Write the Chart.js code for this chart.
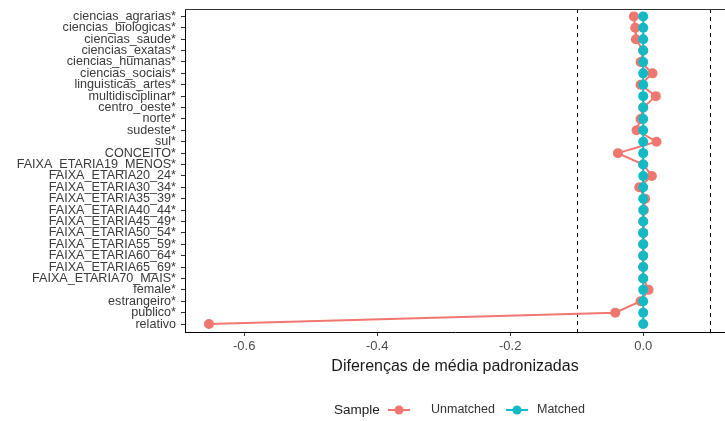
<!DOCTYPE html>
<html>
<head>
<meta charset="utf-8">
<script src="https://cdn.jsdelivr.net/npm/chart.js@4"></script>
<style>
  html, body { margin: 0; padding: 0; background: #fff; }
  #wrap { width: 725px; height: 421px; }
</style>
</head>
<body>
<div id="wrap"><canvas id="c" width="725" height="421"></canvas></div>
<script>
const categories = [
  "ciencias_agrarias*", "ciencias_biologicas*", "ciencias_saude*", "ciencias_exatas*",
  "ciencias_humanas*", "ciencias_sociais*", "linguisticas_artes*", "multidisciplinar*",
  "centro_oeste*", "norte*", "sudeste*", "sul*", "CONCEITO*",
  "FAIXA_ETARIA19_MENOS*", "FAIXA_ETARIA20_24*", "FAIXA_ETARIA30_34*", "FAIXA_ETARIA35_39*",
  "FAIXA_ETARIA40_44*", "FAIXA_ETARIA45_49*", "FAIXA_ETARIA50_54*", "FAIXA_ETARIA55_59*",
  "FAIXA_ETARIA60_64*", "FAIXA_ETARIA65_69*", "FAIXA_ETARIA70_MAIS*",
  "female*", "estrangeiro*", "publico*", "relativo"
];
const unmatched = [
  -0.014, -0.012, -0.011, 0.000,
  -0.004, 0.014, -0.004, 0.019,
  0.000, -0.004, -0.010, 0.020, -0.038,
  0.000, 0.013, -0.006, 0.003,
  0.001, 0.000, 0.000, 0.000,
  0.000, 0.000, 0.000,
  0.008, -0.004, -0.042, -0.653
];
const matched = [
  0.000, 0.000, 0.000, 0.000,
  0.000, 0.000, 0.000, 0.000,
  0.000, 0.000, 0.000, 0.000, 0.000,
  0.000, 0.000, 0.000, 0.000,
  0.000, 0.000, 0.000, 0.000,
  0.000, 0.000, 0.000,
  0.000, 0.000, 0.000, 0.000
];
const seriesNames = ["Unmatched", "Matched"];
const legendTitle = "Sample";
const xTicks = [-0.6, -0.4, -0.2, 0.0];
const thresholds = [-0.1, 0.1];
const xTitle = "Diferenças de média padronizadas";

const RED = "#F0776F";
const TEAL = "#13BAC3";
const FONT = "'Liberation Sans', Arial, sans-serif";

const toPts = arr => arr.map((v, i) => ({ x: v, y: i }));

const framePlugin = {
  id: "frame",
  beforeDatasetsDraw(chart) {
    const { ctx, chartArea, scales } = chart;
    ctx.save();
    ctx.strokeStyle = "#000";
    ctx.lineWidth = 1;
    ctx.setLineDash([4, 4]);
    thresholds.forEach(t => {
      const px = Math.round(scales.x.getPixelForValue(t)) + 0.5;
      ctx.beginPath();
      ctx.moveTo(px, chartArea.top);
      ctx.lineTo(px, chartArea.bottom);
      ctx.stroke();
    });
    ctx.restore();
  },
  afterDraw(chart) {
    const { ctx, chartArea } = chart;
    ctx.save();
    // top border
    ctx.strokeStyle = "#333";
    ctx.lineWidth = 1;
    ctx.beginPath();
    ctx.moveTo(chartArea.left, chartArea.top + 0.5);
    ctx.lineTo(chartArea.right, chartArea.top + 0.5);
    ctx.stroke();

    // legend
    const ly = 410;
    ctx.textBaseline = "middle";
    ctx.textAlign = "left";
    ctx.fillStyle = "#1a1a1a";
    ctx.font = "13.5px " + FONT;
    ctx.fillText(legendTitle, 334, ly);
    const colors = [RED, TEAL];
    const keyCenters = [399, 517];
    const textStarts = [431, 537];
    ctx.font = "12.5px " + FONT;
    seriesNames.forEach((name, i) => {
      const cx = keyCenters[i];
      ctx.strokeStyle = colors[i];
      ctx.fillStyle = colors[i];
      ctx.lineWidth = 2;
      ctx.beginPath();
      ctx.moveTo(cx - 11, ly);
      ctx.lineTo(cx + 11, ly);
      ctx.stroke();
      ctx.beginPath();
      ctx.arc(cx, ly, 4.5, 0, Math.PI * 2);
      ctx.fill();
      ctx.fillStyle = "#333";
      ctx.fillText(name, textStarts[i], ly);
    });
    ctx.restore();
  }
};

new Chart(document.getElementById("c"), {
  type: "line",
  data: {
    datasets: [
      {
        label: seriesNames[1],
        data: toPts(matched),
        borderColor: TEAL,
        backgroundColor: TEAL,
        pointBackgroundColor: TEAL,
        pointBorderWidth: 0,
        pointRadius: 5,
        borderWidth: 2,
        order: 0
      },
      {
        label: seriesNames[0],
        data: toPts(unmatched),
        borderColor: RED,
        backgroundColor: RED,
        pointBackgroundColor: RED,
        pointBorderWidth: 0,
        pointRadius: 5,
        borderWidth: 2,
        order: 1
      }
    ]
  },
  options: {
    responsive: false,
    animation: false,
    layout: { autoPadding: false, padding: { top: 9, right: 0, bottom: 45, left: 0 } },
    plugins: { legend: { display: false }, tooltip: { enabled: false } },
    scales: {
      x: {
        type: "linear",
        min: -0.689,
        max: 0.123,
        afterBuildTicks(scale) { scale.ticks = xTicks.map(v => ({ value: v })); },
        afterFit(scale) { scale.height = 44; scale.paddingLeft = 0; scale.paddingRight = 0; },
        ticks: {
          color: "#4a4a4a",
          font: { family: FONT, size: 13 },
          padding: 3,
          callback: v => v.toFixed(1)
        },
        grid: { drawOnChartArea: false, drawTicks: true, tickLength: 4, color: "#333" },
        border: { display: true, color: "#000", width: 1 },
        title: {
          display: true,
          text: xTitle,
          color: "#1a1a1a",
          font: { family: FONT, size: 16 },
          padding: { top: 0, bottom: 0 }
        }
      },
      y: {
        type: "linear",
        reverse: true,
        min: -0.65,
        max: 27.7,
        afterBuildTicks(scale) { scale.ticks = categories.map((c, i) => ({ value: i })); },
        afterFit(scale) { scale.width = 185; scale.paddingTop = 0; scale.paddingBottom = 0; },
        ticks: {
          color: "#3a3a3a",
          font: { family: FONT, size: 12.6 },
          padding: 5,
          autoSkip: false,
          callback: v => categories[v]
        },
        grid: { drawOnChartArea: false, drawTicks: true, tickLength: 4, color: "#333" },
        border: { display: true, color: "#000", width: 1 }
      }
    }
  },
  plugins: [framePlugin]
});
</script>
</body>
</html>
